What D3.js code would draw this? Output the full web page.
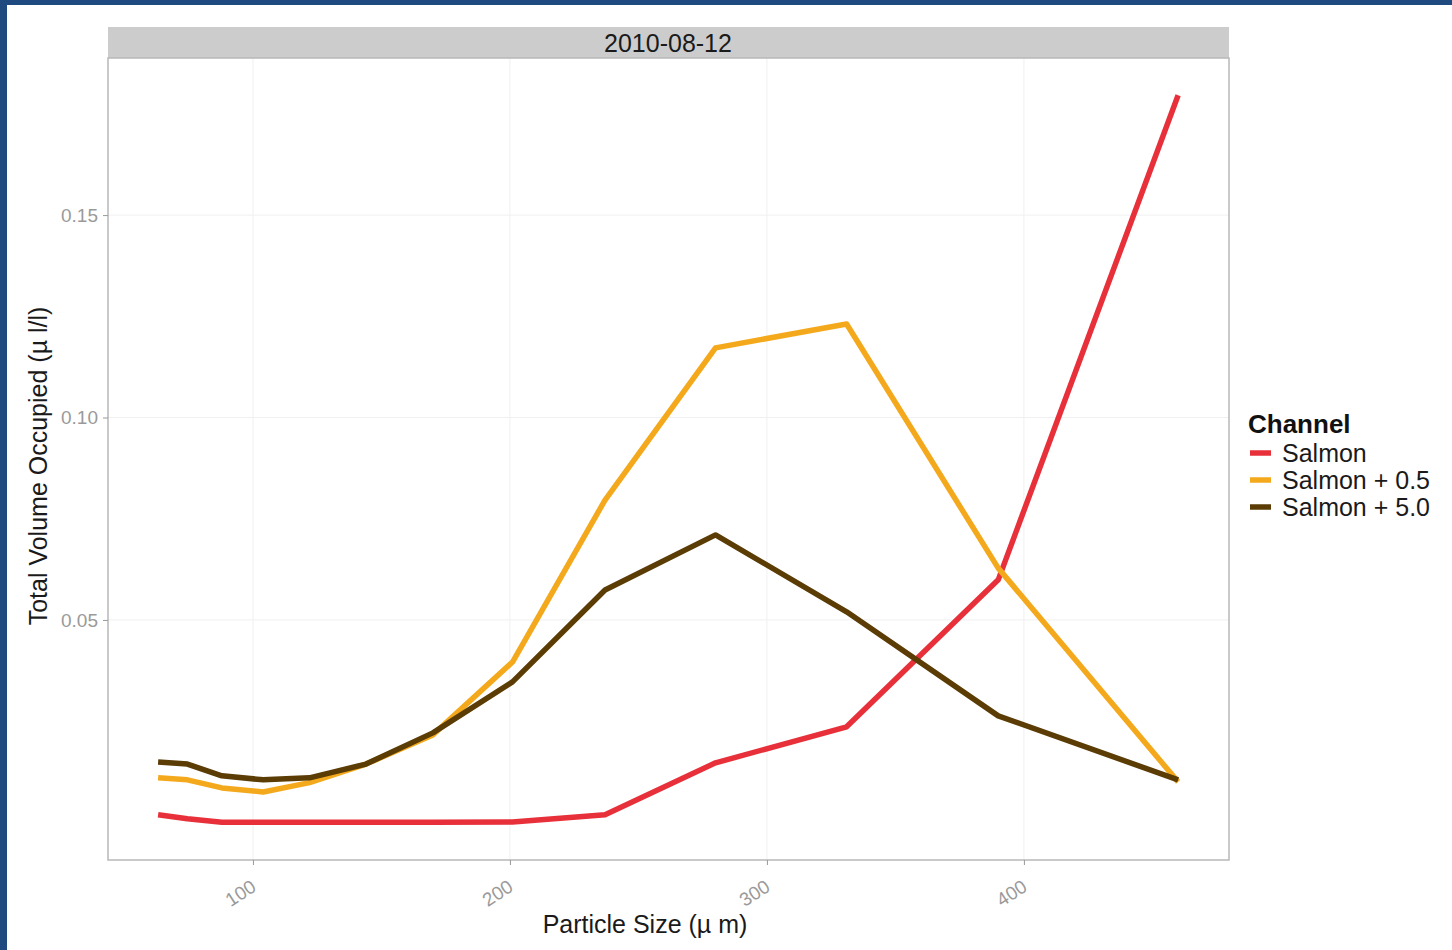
<!DOCTYPE html>
<html>
<head>
<meta charset="utf-8">
<script src="https://cdn.jsdelivr.net/npm/d3@7"></script>
<style>
  html, body { margin: 0; padding: 0; background: #ffffff; }
  svg { display: block; }
  text { font-family: "Liberation Sans", Arial, Helvetica, sans-serif; }
</style>
</head>
<body>
<svg id="chart" width="1452" height="950"></svg>
<script>
// Particle size bin midpoints (µm)
const sizes = [63.1, 74.5, 87.9, 104, 122, 144, 170, 201, 237, 280, 331, 390, 460];

// Total volume occupied (µl/l) per channel
const salmon     = [0.0019, 0.0009, 0.0000, 0.0000, 0.0000, 0.0000, 0.0000, 0.0001, 0.0019, 0.0147, 0.0236, 0.0599, 0.1796];
const salmon05   = [0.0110, 0.0105, 0.0085, 0.0075, 0.0098, 0.0144, 0.0216, 0.0396, 0.0796, 0.1172, 0.1231, 0.0628, 0.0100];
const salmon50   = [0.0149, 0.0144, 0.0115, 0.0105, 0.0110, 0.0144, 0.0221, 0.0347, 0.0574, 0.0710, 0.0520, 0.0263, 0.0105];

const channelNames  = ["Salmon", "Salmon + 0.5", "Salmon + 5.0"];
const channelColors = ["#e8303a", "#f4a91c", "#5a3c04"];
const channelValues = [salmon, salmon05, salmon50];

const xTicks = [100, 200, 300, 400];
const yTicks = [0.05, 0.10, 0.15];
const panelTitle = "2010-08-12";

const svg = d3.select("#chart");

// Frame around the figure
svg.append("rect").attr("x", 0).attr("y", 0).attr("width", 1452).attr("height", 950).attr("fill", "#1f4a7f");
svg.append("rect").attr("x", 7).attr("y", 5).attr("width", 1452).attr("height", 950).attr("fill", "#ffffff");

const panel = { left: 108, right: 1229, top: 58, bottom: 860 };

const x = d3.scaleLinear().domain([43.6, 479.8]).range([panel.left, panel.right]);
const y = d3.scaleLinear().domain([-0.0093, 0.1888]).range([panel.bottom, panel.top]);

// Strip with the panel title
svg.append("rect")
  .attr("x", panel.left).attr("y", 27)
  .attr("width", panel.right - panel.left).attr("height", panel.top - 27)
  .attr("fill", "#cccccc");
svg.append("text")
  .attr("x", 668).attr("y", 52)
  .attr("text-anchor", "middle").attr("font-size", 25).attr("fill", "#1a1a1a")
  .text(panelTitle);

// Panel background
svg.append("rect")
  .attr("x", panel.left).attr("y", panel.top)
  .attr("width", panel.right - panel.left).attr("height", panel.bottom - panel.top)
  .attr("fill", "#ffffff");

// Grid lines
const grid = svg.append("g");
grid.selectAll("line.gy").data(yTicks).enter().append("line")
  .attr("x1", panel.left).attr("x2", panel.right)
  .attr("y1", d => y(d)).attr("y2", d => y(d))
  .attr("stroke", "#f0f0f0").attr("stroke-width", 1);
grid.selectAll("line.gx").data(xTicks).enter().append("line")
  .attr("y1", panel.top).attr("y2", panel.bottom)
  .attr("x1", d => x(d)).attr("x2", d => x(d))
  .attr("stroke", "#f0f0f0").attr("stroke-width", 1);

// Data lines
const line = d3.line().x((d, i) => x(sizes[i])).y(d => y(d)).curve(d3.curveLinear);
const series = svg.append("g");
channelValues.forEach((vals, k) => {
  series.append("path")
    .datum(vals)
    .attr("d", line)
    .attr("fill", "none")
    .attr("stroke", channelColors[k])
    .attr("stroke-width", 5.5)
    .attr("stroke-linejoin", "round");
});

// Panel border
svg.append("rect")
  .attr("x", panel.left).attr("y", panel.top)
  .attr("width", panel.right - panel.left).attr("height", panel.bottom - panel.top)
  .attr("fill", "none").attr("stroke", "#b8b8b8").attr("stroke-width", 1.5);

// Axes
const xAxis = d3.axisBottom(x).tickValues(xTicks).tickSize(5).tickPadding(6).tickFormat(d3.format("d"));
const gx = svg.append("g").attr("transform", `translate(0,${panel.bottom})`).call(xAxis);
gx.select(".domain").remove();
gx.selectAll(".tick line").attr("stroke", "#999999");
gx.selectAll(".tick text")
  .attr("font-size", 19).attr("fill", "#9a9a9a")
  .attr("text-anchor", "end")
  .attr("dy", null).attr("y", 0)
  .attr("transform", "translate(4,30) rotate(-33)");

const yAxis = d3.axisLeft(y).tickValues(yTicks).tickSize(5).tickPadding(5).tickFormat(d3.format(".2f"));
const gy = svg.append("g").attr("transform", `translate(${panel.left},0)`).call(yAxis);
gy.select(".domain").remove();
gy.selectAll(".tick line").attr("stroke", "#999999");
gy.selectAll(".tick text").attr("font-size", 19).attr("fill", "#9a9a9a");

// Axis titles
svg.append("text")
  .attr("x", 645).attr("y", 933)
  .attr("text-anchor", "middle").attr("font-size", 25).attr("fill", "#1a1a1a")
  .text("Particle Size (µ m)");
svg.append("text")
  .attr("transform", "translate(47,466) rotate(-90)")
  .attr("text-anchor", "middle").attr("font-size", 25).attr("fill", "#1a1a1a")
  .text("Total Volume Occupied (µ l/l)");

// Legend
const legend = svg.append("g").attr("transform", "translate(1248,0)");
legend.append("text")
  .attr("x", 0).attr("y", 433)
  .attr("font-size", 26).attr("font-weight", "bold").attr("fill", "#111111")
  .text("Channel");
channelNames.forEach((name, k) => {
  const cy = 453 + k * 27;
  legend.append("line")
    .attr("x1", 2).attr("x2", 23).attr("y1", cy).attr("y2", cy)
    .attr("stroke", channelColors[k]).attr("stroke-width", 5.5);
  legend.append("text")
    .attr("x", 34).attr("y", cy + 9)
    .attr("font-size", 25).attr("fill", "#1a1a1a")
    .text(name);
});
</script>
</body>
</html>
